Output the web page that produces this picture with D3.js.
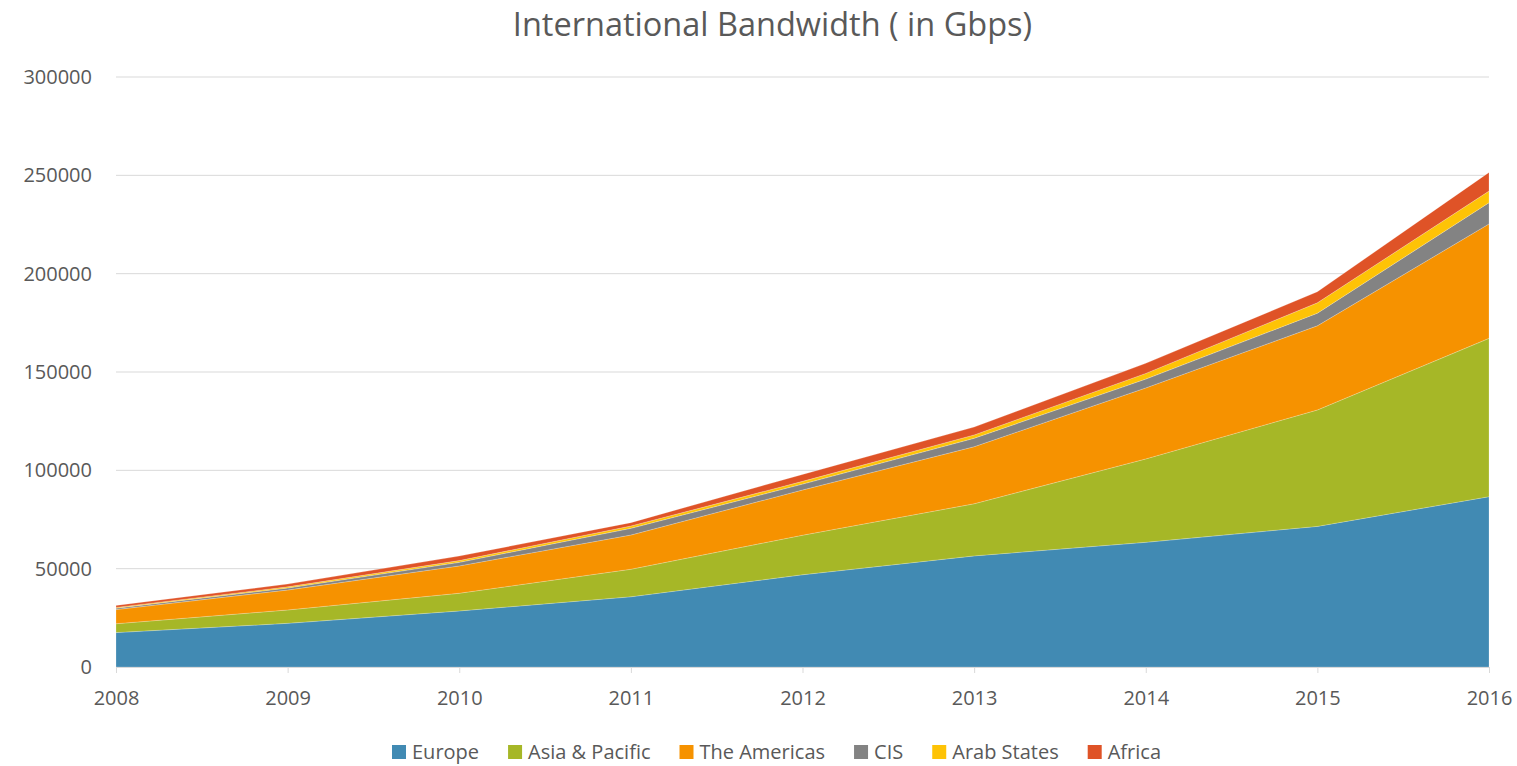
<!DOCTYPE html>
<html>
<head>
<meta charset="utf-8">
<script src="https://cdn.jsdelivr.net/npm/d3@7"></script>
<style>
  body { margin: 0; background: #fff; }
  text { font-family: "Open Sans", sans-serif; fill: #595959; }
</style>
</head>
<body>
<div id="chart"></div>
<script>
// data (Gbps)
const years = [2008, 2009, 2010, 2011, 2012, 2013, 2014, 2015, 2016];
const seriesNames = ["Europe", "Asia & Pacific", "The Americas", "CIS", "Arab States", "Africa"];
const europe    = [17500, 22200, 28500, 35700, 46900, 56500, 63400, 71500, 86600];
const asia      = [ 4500,  6800,  9000, 14000, 20100, 26500, 42400, 59200, 80500];
const americas  = [ 7200, 10150, 13900, 17400, 23000, 29000, 36100, 42800, 58200];
const cis       = [  700,  1000,  1800,  3400,  3000,  4300,  4500,  6400, 10800];
const arab      = [  400,   600,   900,  1200,  1400,  1700,  2900,  5300,  5900];
const africa    = [ 1000,  1400,  2300,  1700,  3500,  4000,  5100,  5600,  9500];
const yTicks = [0, 50000, 100000, 150000, 200000, 250000, 300000];
const colors = ["#418AB3", "#A6B727", "#F69200", "#838383", "#FEC306", "#DF5327"];

let width = 1517,
    height = 766;
let margin = {left: 116, right: 28, top: 77, bottom: 99};

let svg = d3.select("#chart")
    .append("svg")
    .attr("width", width)
    .attr("height", height);

// build table for the stack
let allSeries = [europe, asia, americas, cis, arab, africa];
let table = years.map((yr, i) => {
    let row = {year: yr};
    seriesNames.forEach((n, k) => row[n] = allSeries[k][i]);
    return row;
});

let x = d3.scaleLinear()
    .domain(d3.extent(years))
    .range([margin.left, width - margin.right]);

let y = d3.scaleLinear()
    .domain([0, 300000])
    .range([height - margin.bottom, margin.top]);

// gridlines
svg.append("g")
    .selectAll("line")
    .data(yTicks.slice(1))
    .enter()
    .append("line")
    .attr("x1", x.range()[0])
    .attr("x2", x.range()[1])
    .attr("y1", d => y(d))
    .attr("y2", d => y(d))
    .attr("stroke", "#d9d9d9")
    .attr("stroke-width", 1);

// stacked areas
let stack = d3.stack().keys(seriesNames);
let layers = stack(table);

let area = d3.area()
    .x(d => x(d.data.year))
    .y0(d => y(d[0]))
    .y1(d => y(d[1]));

svg.append("g")
    .selectAll("path")
    .data(layers)
    .enter()
    .append("path")
    .attr("d", area)
    .attr("fill", (d, i) => colors[i])
    .attr("stroke", "#ffffff")
    .attr("stroke-opacity", 0.35)
    .attr("stroke-width", 0.6);

// x axis
let xAxis = svg.append("g")
    .attr("transform", `translate(0, ${y(0)})`)
    .call(d3.axisBottom(x).tickValues(years).tickFormat(d3.format("d")).tickSize(6).tickPadding(18));
xAxis.select(".domain").attr("stroke", "#d9d9d9");
xAxis.selectAll(".tick line").attr("stroke", "#d9d9d9");
xAxis.selectAll(".tick text")
    .style("font-size", "20px")
    .attr("fill", "#595959");

// y axis labels
let yAxis = svg.append("g")
    .attr("transform", `translate(${margin.left - 14}, 0)`)
    .call(d3.axisLeft(y).tickValues(yTicks).tickFormat(d3.format("d")).tickSize(0).tickPadding(10));
yAxis.select(".domain").remove();
yAxis.selectAll(".tick text")
    .style("font-size", "20px")
    .attr("fill", "#595959");

// title
svg.append("text")
    .attr("x", width / 2 + 14)
    .attr("y", 36)
    .style("text-anchor", "middle")
    .style("font-size", "32.5px")
    .text("International Bandwidth ( in Gbps)");

// legend, centred under the plot
let legend = svg.append("g");
let items = legend.selectAll("g")
    .data(seriesNames)
    .enter()
    .append("g");
items.append("rect")
    .attr("width", 14)
    .attr("height", 14)
    .attr("y", -14)
    .attr("fill", (d, i) => colors[i]);
items.append("text")
    .attr("x", 20)
    .style("font-size", "20px")
    .text(d => d);

let gap = 29;
let pos = 0;
items.each(function() {
    let w = this.getBBox().width;
    d3.select(this).attr("transform", `translate(${pos}, 0)`);
    pos += w + gap;
});
let total = pos - gap;
legend.attr("transform", `translate(${(width - total) / 2 + 18}, 759)`);
</script>
</body>
</html>
